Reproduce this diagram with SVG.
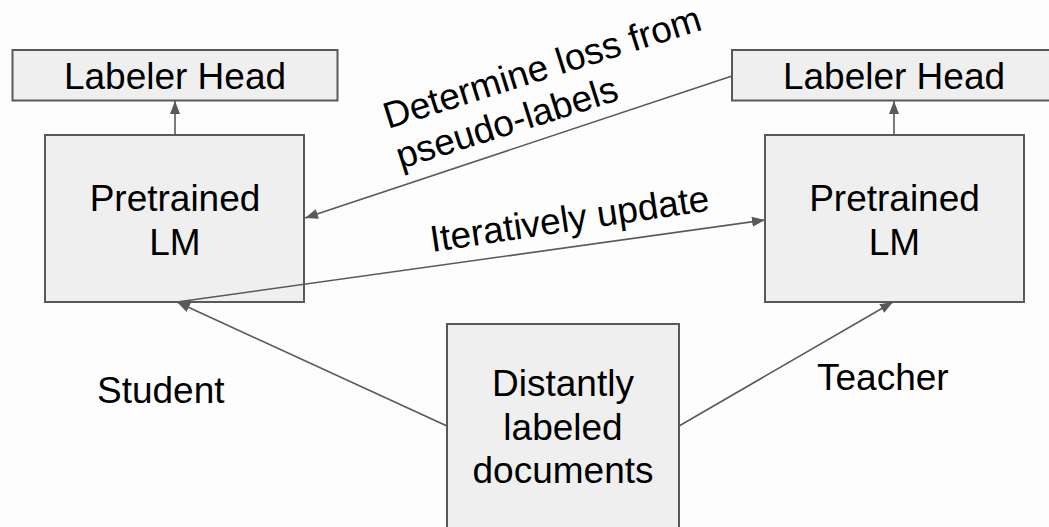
<svg xmlns="http://www.w3.org/2000/svg" width="1049" height="527" viewBox="0 0 1049 527">
  <style>
    .box { fill: #efefef; stroke: #595959; stroke-width: 2; }
    .lbl { font-family: "Liberation Sans", Arial, sans-serif; font-size: 37px; fill: #000; }
    .mid { text-anchor: middle; }
    .edge { fill: none; stroke: #595959; stroke-width: 1.6; marker-end: url(#arrow); }
  </style>
  <defs>
    <marker id="arrow" markerUnits="userSpaceOnUse" markerWidth="14" markerHeight="12" viewBox="0 0 14 12" refX="13" refY="6" orient="auto">
      <path d="M0,1 L13,6 L0,11 Z" fill="#595959"/>
    </marker>
  </defs>
  <rect width="1049" height="527" fill="#fdfdfd"/>

  <g id="student-head">
    <rect class="box" x="12.5" y="50" width="325" height="50.5"/>
    <text class="lbl mid" x="175" y="88.5">Labeler Head</text>
  </g>
  <g id="student-lm">
    <rect class="box" x="45" y="135" width="259" height="167"/>
    <text class="lbl mid" x="175" y="211">Pretrained</text>
    <text class="lbl mid" x="175" y="255">LM</text>
  </g>
  <g id="teacher-head">
    <rect class="box" x="732" y="50" width="325" height="50.5"/>
    <text class="lbl mid" x="894" y="88.5">Labeler Head</text>
  </g>
  <g id="teacher-lm">
    <rect class="box" x="765" y="135" width="259" height="167"/>
    <text class="lbl mid" x="894.5" y="211">Pretrained</text>
    <text class="lbl mid" x="894.5" y="255">LM</text>
  </g>
  <g id="documents">
    <rect class="box" x="447" y="324" width="232" height="220"/>
    <text class="lbl mid" x="563" y="396">Distantly</text>
    <text class="lbl mid" x="563" y="440">labeled</text>
    <text class="lbl mid" x="563" y="483">documents</text>
  </g>

  <g id="connectors">
    <line class="edge" x1="175" y1="135" x2="175" y2="101"/>
    <line class="edge" x1="894" y1="135" x2="894" y2="101"/>
    <line class="edge" x1="447" y1="426" x2="177" y2="302"/>
    <line class="edge" x1="679" y1="426" x2="893" y2="302"/>
    <line class="edge" x1="732" y1="76" x2="305" y2="218"/>
    <line class="edge" x1="177" y1="302" x2="765" y2="220"/>
  </g>

  <g id="edge-labels">
    <text class="lbl" transform="translate(388,129) rotate(-17.5)">
      <tspan x="0" y="0">Determine loss from</tspan>
      <tspan x="0" y="42">pseudo-labels</tspan>
    </text>
    <text class="lbl" transform="translate(432,252) rotate(-8.5)">Iteratively update</text>
    <text class="lbl" x="97" y="403">Student</text>
    <text class="lbl" x="817" y="390">Teacher</text>
  </g>
</svg>
